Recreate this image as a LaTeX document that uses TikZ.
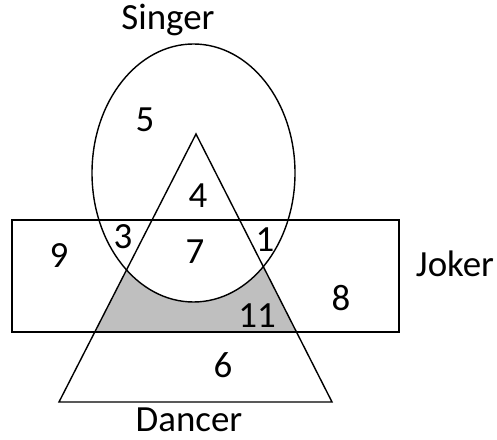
\documentclass[tikz,border=0pt]{standalone}
\usepackage{fontspec}
\setmainfont{Carlito}
\tikzset{
  setline/.style={line width=0.8pt},
  region/.style={font=\fontsize{21}{25}\selectfont, inner sep=0pt},
}
\begin{document}
\begin{tikzpicture}
\useasboundingbox (0,0) rectangle (9.94,8.78);
\begin{scope}
\clip (3.92,6.10)--(1.18,0.74)--(6.64,0.74)--cycle;
\clip (0.24,2.14) rectangle (7.98,4.38);
\fill[black!25, even odd rule] (0.24,2.14) rectangle (7.98,4.38) (3.87,5.32) ellipse [x radius=2.03, y radius=2.58];
\end{scope}
\draw[setline] (3.87,5.32) ellipse [x radius=2.03, y radius=2.58];
\draw[setline] (0.24,2.14) rectangle (7.98,4.38);
\draw[setline] (3.92,6.10)--(1.18,0.74)--(6.64,0.74)--cycle;

\node[region] (singer) at (3.36,8.38) {Singer};
\node[region] (joker) at (9.10,3.50) {Joker};
\node[region] (dancer) at (3.78,0.38) {Dancer};

\node[region] (s) at (2.90,6.38) {5};
\node[region] (sd) at (3.96,4.86) {4};
\node[region] (sj) at (2.46,4.04) {3};
\node[region] (sdj) at (3.90,3.74) {7};
\node[region] (sj2) at (5.30,3.98) {1};
\node[region] (j) at (1.18,3.66) {9};
\node[region] (j2) at (6.82,2.82) {8};
\node[region] (dj) at (5.14,2.46) {11};
\node[region] (d) at (4.46,1.48) {6};
\end{tikzpicture}
\end{document}
